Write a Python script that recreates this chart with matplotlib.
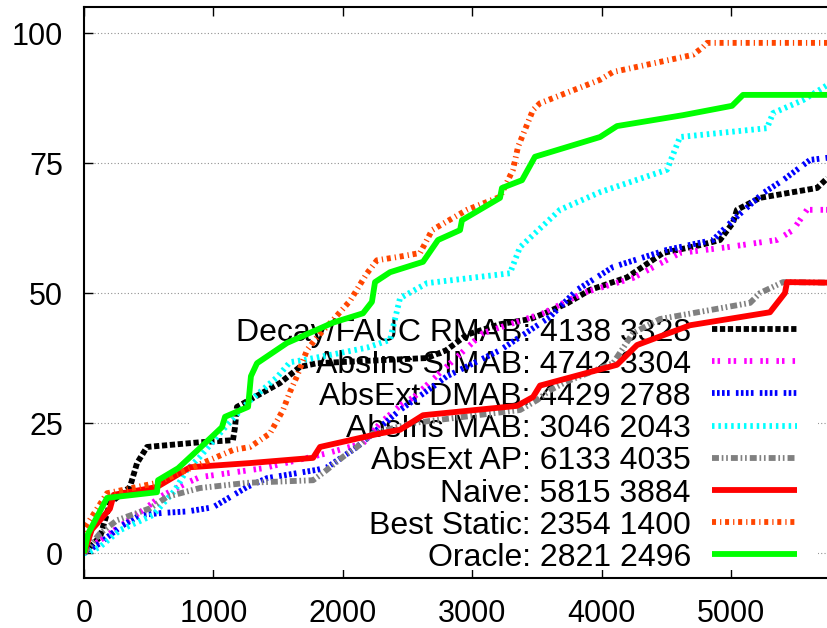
import matplotlib
matplotlib.use('Agg')
import matplotlib.pyplot as plt
from matplotlib.patches import Rectangle

plt.rcParams['font.family'] = ['Liberation Sans', 'DejaVu Sans']
plt.rcParams['lines.scale_dashes'] = False

# data
decay_x = [0, 124, 201, 355, 410, 487, 896, 1151, 1167, 1182, 1515, 1669, 1800, 2651, 2800, 2960, 3215, 3450, 3578,
           3733, 3910, 4196, 4475, 4760, 4915, 5015, 5046, 5224, 5665, 5745]
decay_y = [0, 3.1, 9.6, 12.7, 17.3, 20.4, 21.3, 21.7, 24.2, 28.1, 32.7, 35.8, 36.5, 37.5, 39, 42, 44, 45, 46.3,
           48, 50.6, 53, 57.7, 59.2, 60.2, 63.5, 66, 68.3, 70.2, 72.1]

simab_x = [0, 40, 201, 487, 587, 795, 896, 1383, 1880, 2156, 2290, 2450, 2550, 2774, 3083, 3547, 3856, 4243, 4606,
           4969, 5355, 5479, 5587, 5745]
simab_y = [0, 1.0, 3.8, 8.8, 10.8, 13.5, 14.6, 16.3, 19.2, 21.1, 25, 28.5, 30, 35.2, 42.3, 46.1, 50, 52.9, 57.7,
           58.8, 60.2, 62.1, 66, 66]

dmab_x = [0, 124, 278, 433, 600, 800, 997, 1260, 1414, 1800, 1880, 2110, 2264, 2442, 2697, 2805, 3215, 3601, 3810,
          4088, 4505, 4861, 5015, 5247, 5402, 5611, 5745]
dmab_y = [0, 1.9, 5, 7.3, 7.7, 8.0, 8.8, 12.7, 14.4, 16, 16.5, 20.4, 23.7, 27.5, 32, 34, 39, 45.4, 50.6,
          55, 58.3, 60.2, 64, 69.2, 71.7, 75.6, 76]

mab_x = [0, 23, 124, 278, 533, 700, 795, 896, 1074, 1260, 1491, 1592, 1693, 1924, 2187, 2365, 2442, 2651, 3292,
         3369, 3678, 3988, 4505, 4606, 5278, 5325, 5557, 5745]
mab_y = [0, 0, 1.2, 4.4, 7.3, 12, 16, 18.5, 23.7, 28.8, 33.8, 36.7, 37.1, 38.2, 39.5, 41, 49, 51.9, 53.8,
         58.8, 66, 69.4, 73.7, 80, 81.7, 84.6, 87.1, 90]

ap_x = [0, 124, 255, 510, 641, 896, 1260, 1770, 1847, 2002, 2110, 2233, 2542, 3369, 3501, 3601, 3733, 4088, 4243,
        4451, 5147, 5224, 5402, 5745]
ap_y = [0, 3.8, 6.3, 8.6, 10.8, 12.5, 13.5, 14, 15.4, 18.5, 20.4, 23, 25, 27.5, 29.4, 31.3, 33, 36.5, 42.3,
        45, 48.1, 50, 52.1, 52]

naive_x = [0, 60, 200, 230, 564, 820, 1283, 1770, 1824, 2288, 2442, 2620, 3346, 3470, 3524, 4119, 4274, 4683,
           5301, 5417, 5433, 5745]
naive_y = [0, 4.5, 8.5, 11.2, 12.7, 16.5, 17.3, 18.3, 20.4, 23, 23.7, 26.5, 28.3, 30, 32.2, 36.2, 40, 43.8,
           46.3, 50, 52.1, 52]

static_x = [0, 10, 178, 564, 742, 795, 1151, 1283, 1437, 1538, 1592, 1646, 1723, 1800, 1924, 2056, 2187, 2264,
            2442, 2597, 2690, 2960, 3215, 3315, 3354, 3470, 3524, 3988, 4088, 4706, 4784, 4815, 5745]
static_y = [0, 5, 11.5, 13.5, 15.4, 16, 19.8, 20.4, 23, 27.5, 31, 34, 39, 41.5, 44.8, 48.5, 53.8, 56.3,
            57, 57.7, 62.1, 66, 68.5, 73.7, 78.1, 85.2, 86.5, 91, 92.5, 95.8, 97.3, 98.1, 98.1]

oracle_x = [0, 31, 178, 564, 572, 727, 896, 1066, 1090, 1268, 1290, 1337, 1569, 1924, 2156, 2225, 2249, 2365,
            2620, 2736, 2906, 2921, 3215, 3230, 3385, 3485, 3988, 4119, 4629, 5008, 5093, 5745]
oracle_y = [0, 3.7, 10.6, 11.7, 14.0, 16.3, 20.2, 24.2, 26.2, 28.1, 34, 36.5, 40.4, 44.3, 46.1, 48.3, 52.1, 54,
            56, 60.2, 62.1, 64, 68.3, 70.2, 71.7, 76.2, 80, 82.1, 84.2, 86, 88.1, 88.1]

labels = ['Decay/FAUC RMAB: 4138 3328', 'AbsIns SIMAB: 4742 3304', 'AbsExt DMAB: 4429 2788',
          'AbsIns MAB: 3046 2043', 'AbsExt AP: 6133 4035', 'Naive: 5815 3884',
          'Best Static: 2354 1400', 'Oracle: 2821 2496']

series = [(decay_x, decay_y), (simab_x, simab_y), (dmab_x, dmab_y), (mab_x, mab_y),
          (ap_x, ap_y), (naive_x, naive_y), (static_x, static_y), (oracle_x, oracle_y)]

colors = ['black', '#ff00ff', '#0000ff', '#00ffff', '#808080', '#ff0000', '#ff4500', '#00ff00']
dashes = [(0, (3.8, 1.9)),
          (0, (1.8, 2.2, 1.8, 5.8)),
          (0, (1.9, 1.7, 1.9, 1.7, 1.9, 1.7, 1.9, 4.5)),
          (0, (1.8, 2.8)),
          (0, (5, 2, 1.2, 2, 1.2, 2.2)),
          '-',
          (0, (2.9, 2.9, 0.9, 2.7)),
          '-']

fig = plt.figure(figsize=(8.27, 6.28), dpi=100)
ax_w = 760
ax = fig.add_axes([84 / 827, 50 / 628, ax_w / 827, 571 / 628])

lw = 4.2
for (xs, ys), c, ls in zip(series, colors, dashes):
    ax.plot(xs, ys, color=c, linestyle=ls, linewidth=lw, dash_capstyle='butt', solid_capstyle='butt', zorder=2)

ax.set_xlim(0, ax_w / 129.4 * 1000)
ax.set_ylim(-4.8, 105)
ax.set_xticks([0, 1000, 2000, 3000, 4000, 5000])
ax.set_yticks([0, 25, 50, 75, 100])
ax.tick_params(direction='in', length=6.5, width=1, labelsize=22, pad=15, top=True)
ax.spines['right'].set_visible(False)
for s in ['left', 'top', 'bottom']:
    ax.spines[s].set_linewidth(1.5)

ax.set_axisbelow(True)
ax.yaxis.grid(True, linestyle=(0, (0.8, 1.6)), color='#909090', linewidth=0.8)

# key: white box hides the grid, curves are drawn over the text
ax.add_patch(Rectangle(((190 - 84) / ax_w, 0.014), 628 / ax_w, 0.446, transform=ax.transAxes,
                       facecolor='white', edgecolor='none', zorder=0.8))
y0 = (578 - 329) / 571
step = 32.2 / 571
for i, (lab, c, ls) in enumerate(zip(labels, colors, dashes)):
    yy = y0 - i * step
    ax.text((691 - 84) / ax_w, yy, lab, transform=ax.transAxes, ha='right', va='center_baseline',
            fontsize=23, zorder=1)
    ax.plot([(712 - 84) / ax_w, (797 - 84) / ax_w], [yy, yy], transform=ax.transAxes, color=c, linestyle=ls,
            linewidth=lw, dash_capstyle='butt', solid_capstyle='butt', zorder=2)

fig.savefig('out.png', dpi=100)
